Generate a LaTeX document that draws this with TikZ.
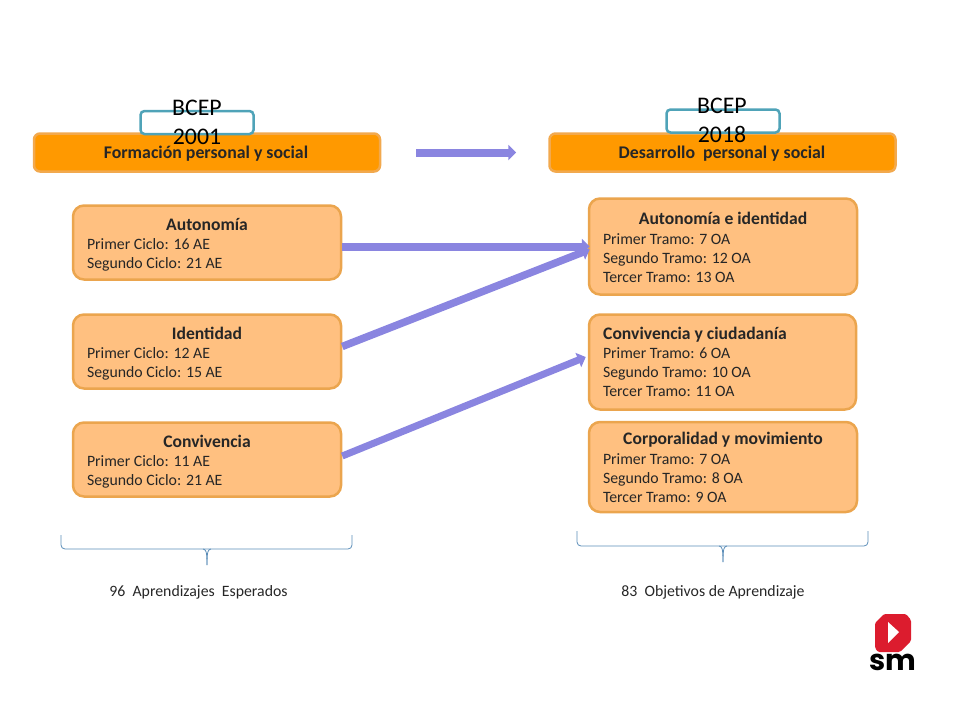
\documentclass[tikz,border=0pt]{standalone}
\usepackage{fontspec}
\setmainfont{Carlito}
\newfontfamily\logofont{Poppins}
\usetikzlibrary{arrows.meta,calc}
\definecolor{hdrfill}{HTML}{FF9900}
\definecolor{hdrline}{HTML}{F2A94E}
\definecolor{boxfill}{HTML}{FFC080}
\definecolor{boxline}{HTML}{EBA54E}
\definecolor{flow}{HTML}{8A85E0}
\definecolor{teal}{HTML}{4FA3B8}
\definecolor{brace}{HTML}{5B8DB8}
\definecolor{logored}{HTML}{DC1C2E}
\definecolor{ink}{HTML}{262626}
\newcommand{\boxtext}[4]{\parbox{#1pt}{\vspace*{#2pt}\centering\fontsize{17.6}{20}\selectfont\textbf{#3}\par\vspace{0.5pt}\raggedright\fontsize{15.8}{19}\selectfont #4\par}}
\tikzset{
  x=1pt,y=-1pt,
  header/.style={draw=hdrline,line width=2.5pt,fill=hdrfill,rounded corners=6pt,minimum width=346pt,minimum height=38pt,inner sep=0pt,anchor=center},
  headertext/.style={inner sep=0pt,text=ink,font=\fontsize{17.8}{20}\selectfont\bfseries},
  topic/.style={draw=boxline,line width=2.5pt,fill=boxfill,rounded corners=11pt,inner sep=0pt,anchor=center,text=ink},
  bcep/.style={draw=teal,line width=2.5pt,fill=white,rounded corners=4pt,minimum width=113pt,minimum height=23pt,inner sep=0pt},
  bceptext/.style={align=center,font=\fontsize{23.8}{29}\selectfont,inner sep=0pt,text=black},
  flowarrow/.style={draw=flow,line width=#1,-{Triangle[length=8pt,width=15pt]}},
  flowarrow/.default=6pt,
  bracket/.style={draw=brace,line width=0.8pt,rounded corners=4pt},
  caption/.style={font=\fontsize{15.8}{18}\selectfont,inner sep=0pt,text=ink}
}
\begin{document}
\begin{tikzpicture}
\useasboundingbox (0,0) rectangle (960,720);
% headers
\node[header] (hl) at (207,152.5) {};
\node[header] (hr) at (722.5,152.5) {};
\node[bcep] (bl) at (197,122.5) {};
\node[bcep] (br) at (723,121) {};
\node[headertext] (hlt) at (206,154) {Formación personal y social};
\node[headertext] (hrt) at (722,154) {Desarrollo\ \ personal y social};
\node[bceptext] (tl) at (197,122) {BCEP\\2001};
\node[bceptext] (tr) at (722,120) {BCEP\\2018};
% left topics
\node[topic,minimum width=268pt,minimum height=74pt] (aut) at (207,242.5) {\boxtext{240}{5}{Autonomía}{Primer Ciclo: 16 AE\\Segundo Ciclo: 21 AE}};
\node[topic,minimum width=268pt,minimum height=74pt] (ide) at (207,351.5) {\boxtext{240}{4}{Identidad}{Primer Ciclo: 12 AE\\Segundo Ciclo: 15 AE}};
\node[topic,minimum width=268pt,minimum height=74pt] (con) at (207,459.5) {\boxtext{240}{4}{Convivencia}{Primer Ciclo: 11 AE\\Segundo Ciclo: 21 AE}};
% right topics
\node[topic,minimum width=268pt,minimum height=96pt] (ai) at (723,246.5) {\boxtext{240}{2}{Autonomía e identidad}{Primer Tramo: 7 OA\\Segundo Tramo: 12 OA\\Tercer Tramo: 13 OA}};
\node[topic,minimum width=267pt,minimum height=95pt] (cc) at (722.5,362) {\boxtext{239}{0}{\hspace*{-55pt}Convivencia y ciudadanía}{Primer Tramo: 6 OA\\Segundo Tramo: 10 OA\\Tercer Tramo: 11 OA}};
\node[topic,minimum width=268pt,minimum height=90pt] (cm) at (723,467) {\boxtext{240}{1}{Corporalidad y movimiento}{Primer Tramo: 7 OA\\Segundo Tramo: 8 OA\\Tercer Tramo: 9 OA}};
% connectors
\coordinate (ta) at ($(hl.east)+(35,0)$);
\coordinate (tb) at ($(hr.west)+(-32,0)$);
\draw[flowarrow=8pt] (ta) -- (tb);
\draw[flowarrow=8pt] (aut.east |- ai.west) -- ($(ai.west)+(2,0)$);
\draw[flowarrow=7.5pt] ($(ide.east)+(0,-5)$) -- ($(ai.west)+(2,3)$);
\draw[flowarrow=7pt] ($(con.east)+(0,-3.5)$) -- ($(cc.west)+(-2,-5)$);
% brackets
\coordinate (l1) at (61,535);\coordinate (l2) at (207,549);\coordinate (l3) at (352,535);\coordinate (l4) at (207,565);
\draw[bracket] (l1) -- (61,549) -- (l2) -- (352,549) -- (l3);
\draw[draw=brace,line width=0.8pt] (203,549) .. controls (206,549.5) and (207,551) .. (l4);
\draw[draw=brace,line width=0.8pt] (211,549) .. controls (208,549.5) and (207,551) .. (l4);
\coordinate (r1) at (577,531);\coordinate (r2) at (723,546);\coordinate (r3) at (868,531);\coordinate (r4) at (723,562);
\draw[bracket] (r1) -- (577,546) -- (r2) -- (868,546) -- (r3);
\draw[draw=brace,line width=0.8pt] (719,546) .. controls (722,546.5) and (723,548) .. (r4);
\draw[draw=brace,line width=0.8pt] (727,546) .. controls (724,546.5) and (723,548) .. (r4);
\node[caption] (c1) at (198.5,592) {96\ \ Aprendizajes\ \ Esperados};
\node[caption] (c2) at (713,592) {83\ \ Objetivos de Aprendizaje};
% logo
\fill[logored,rounded corners=1.5pt] (884,614) -- (906,614) -- (911,620) -- (911,641) -- (900,652) -- (878,652) -- (875,648) -- (875,623) -- cycle;
\fill[white] (888,622) -- (899,632) -- (888,643) -- cycle;
\node[inner sep=0pt,font=\logofont\fontsize{29}{29}\selectfont\bfseries,text=black] (logo) at (892.5,662) {sm};
\end{tikzpicture}
\end{document}
